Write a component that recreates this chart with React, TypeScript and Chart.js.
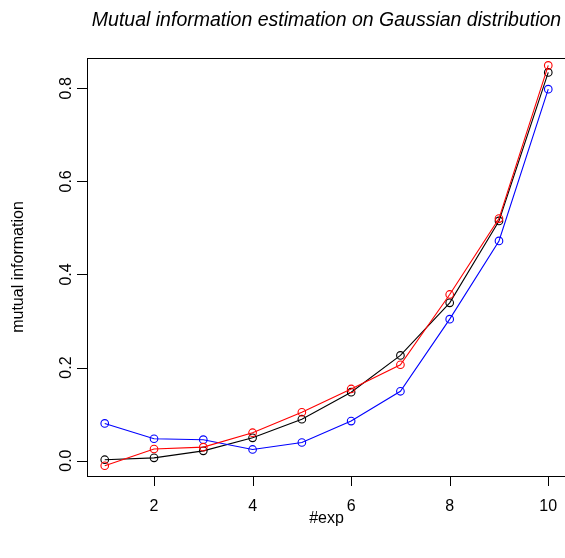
import React, { useEffect, useRef } from "react";
import { Chart, registerables } from "chart.js";

Chart.register(...registerables);

const exps = [1, 2, 3, 4, 5, 6, 7, 8, 9, 10];
const seriesBlack = [0.002, 0.006, 0.021, 0.049, 0.089, 0.147, 0.226, 0.339, 0.515, 0.834];
const seriesRed = [-0.011, 0.025, 0.029, 0.06, 0.104, 0.154, 0.206, 0.357, 0.52, 0.849];
const seriesBlue = [0.08, 0.047, 0.045, 0.024, 0.039, 0.085, 0.149, 0.304, 0.472, 0.798];
const xTicks = [2, 4, 6, 8, 10];
const xTickLabels = ["2", "4", "6", "8", "10"];
const yTicks = [0, 0.2, 0.4, 0.6, 0.8];
const yTickLabels = ["0.0", "0.2", "0.4", "0.6", "0.8"];
const titleText = "Mutual information estimation on Gaussian distribution";
const xTitle = "#exp";
const yTitle = "mutual information";

const FONT = "'Liberation Sans', Arial, sans-serif";
const LABEL_SIZE = 16;
const TITLE_SIZE = 19.5;
const TICK_LEN = 10;
const CANVAS_W = 580;
const CANVAS_H = 558;

const rPlotPlugin = {
  id: "rplot",
  afterDraw(chart: any) {
    const { ctx, chartArea, scales } = chart;
    const xs = scales.x;
    const ys = scales.y;
    const { left, right, top, bottom } = chartArea;
    ctx.save();
    ctx.strokeStyle = "#000";
    ctx.lineWidth = 1;
    // box
    ctx.strokeRect(Math.round(left) + 0.5, Math.round(top) + 0.5, Math.round(right - left), Math.round(bottom - top));
    // ticks
    ctx.beginPath();
    xTicks.forEach((v) => {
      const px = Math.round(xs.getPixelForValue(v)) + 0.5;
      ctx.moveTo(px, bottom);
      ctx.lineTo(px, bottom + TICK_LEN);
    });
    yTicks.forEach((v) => {
      const py = Math.round(ys.getPixelForValue(v)) + 0.5;
      ctx.moveTo(left, py);
      ctx.lineTo(left - TICK_LEN, py);
    });
    ctx.stroke();

    ctx.fillStyle = "#000";
    ctx.font = `${LABEL_SIZE}px ${FONT}`;
    ctx.textAlign = "center";
    ctx.textBaseline = "middle";
    xTicks.forEach((v, i) => {
      ctx.fillText(xTickLabels[i], xs.getPixelForValue(v), bottom + 31);
    });
    yTicks.forEach((v, i) => {
      const py = ys.getPixelForValue(v);
      ctx.save();
      ctx.translate(left - 20, py);
      ctx.rotate(-Math.PI / 2);
      ctx.fillText(yTickLabels[i], 0, 0);
      ctx.restore();
    });
    const cy = (top + bottom) / 2;
    ctx.save();
    ctx.translate(19, cy);
    ctx.rotate(-Math.PI / 2);
    ctx.fillText(yTitle, 0, 0);
    ctx.restore();
    const cx = (left + right) / 2;
    ctx.fillText(xTitle, cx, bottom + 43);
    ctx.font = `italic ${TITLE_SIZE}px ${FONT}`;
    ctx.fillText(titleText, cx, 21);
    ctx.restore();
  },
};

export default function App() {
  const ref = useRef<HTMLCanvasElement | null>(null);
  useEffect(() => {
    const canvas = ref.current;
    if (!canvas) return;
    const mk = (label: string, data: number[], color: string) => ({
      label,
      data: exps.map((x, i) => ({ x, y: data[i] })),
      borderColor: color,
      backgroundColor: "rgba(0,0,0,0)",
      borderWidth: 1.1,
      pointRadius: 3.8,
      pointBorderWidth: 1.1,
      pointBorderColor: color,
      pointBackgroundColor: "rgba(0,0,0,0)",
      tension: 0,
      fill: false,
    });
    const chart = new Chart(canvas, {
      type: "line",
      data: {
        datasets: [
          mk("red", seriesRed, "#ff0000"),
          mk("blue", seriesBlue, "#0000ff"),
          mk("black", seriesBlack, "#000000"),
        ],
      },
      options: {
        animation: false,
        responsive: false,
        devicePixelRatio: 1,
        layout: { padding: { top: 58, right: CANVAS_W - 566, left: 87, bottom: 82 } },
        plugins: { legend: { display: false }, tooltip: { enabled: false }, title: { display: false } },
        scales: {
          x: { type: "linear", min: 0.64, max: 10.36, display: false },
          y: { type: "linear", min: -0.033, max: 0.865, display: false },
        },
      },
      plugins: [rPlotPlugin],
    });
    return () => chart.destroy();
  }, []);
  return (
    <div style={{ position: "fixed", left: 0, top: 0, width: 565, height: 558, overflow: "hidden", background: "#fff" }}>
      <canvas ref={ref} width={CANVAS_W} height={CANVAS_H} style={{ display: "block" }} />
    </div>
  );
}
